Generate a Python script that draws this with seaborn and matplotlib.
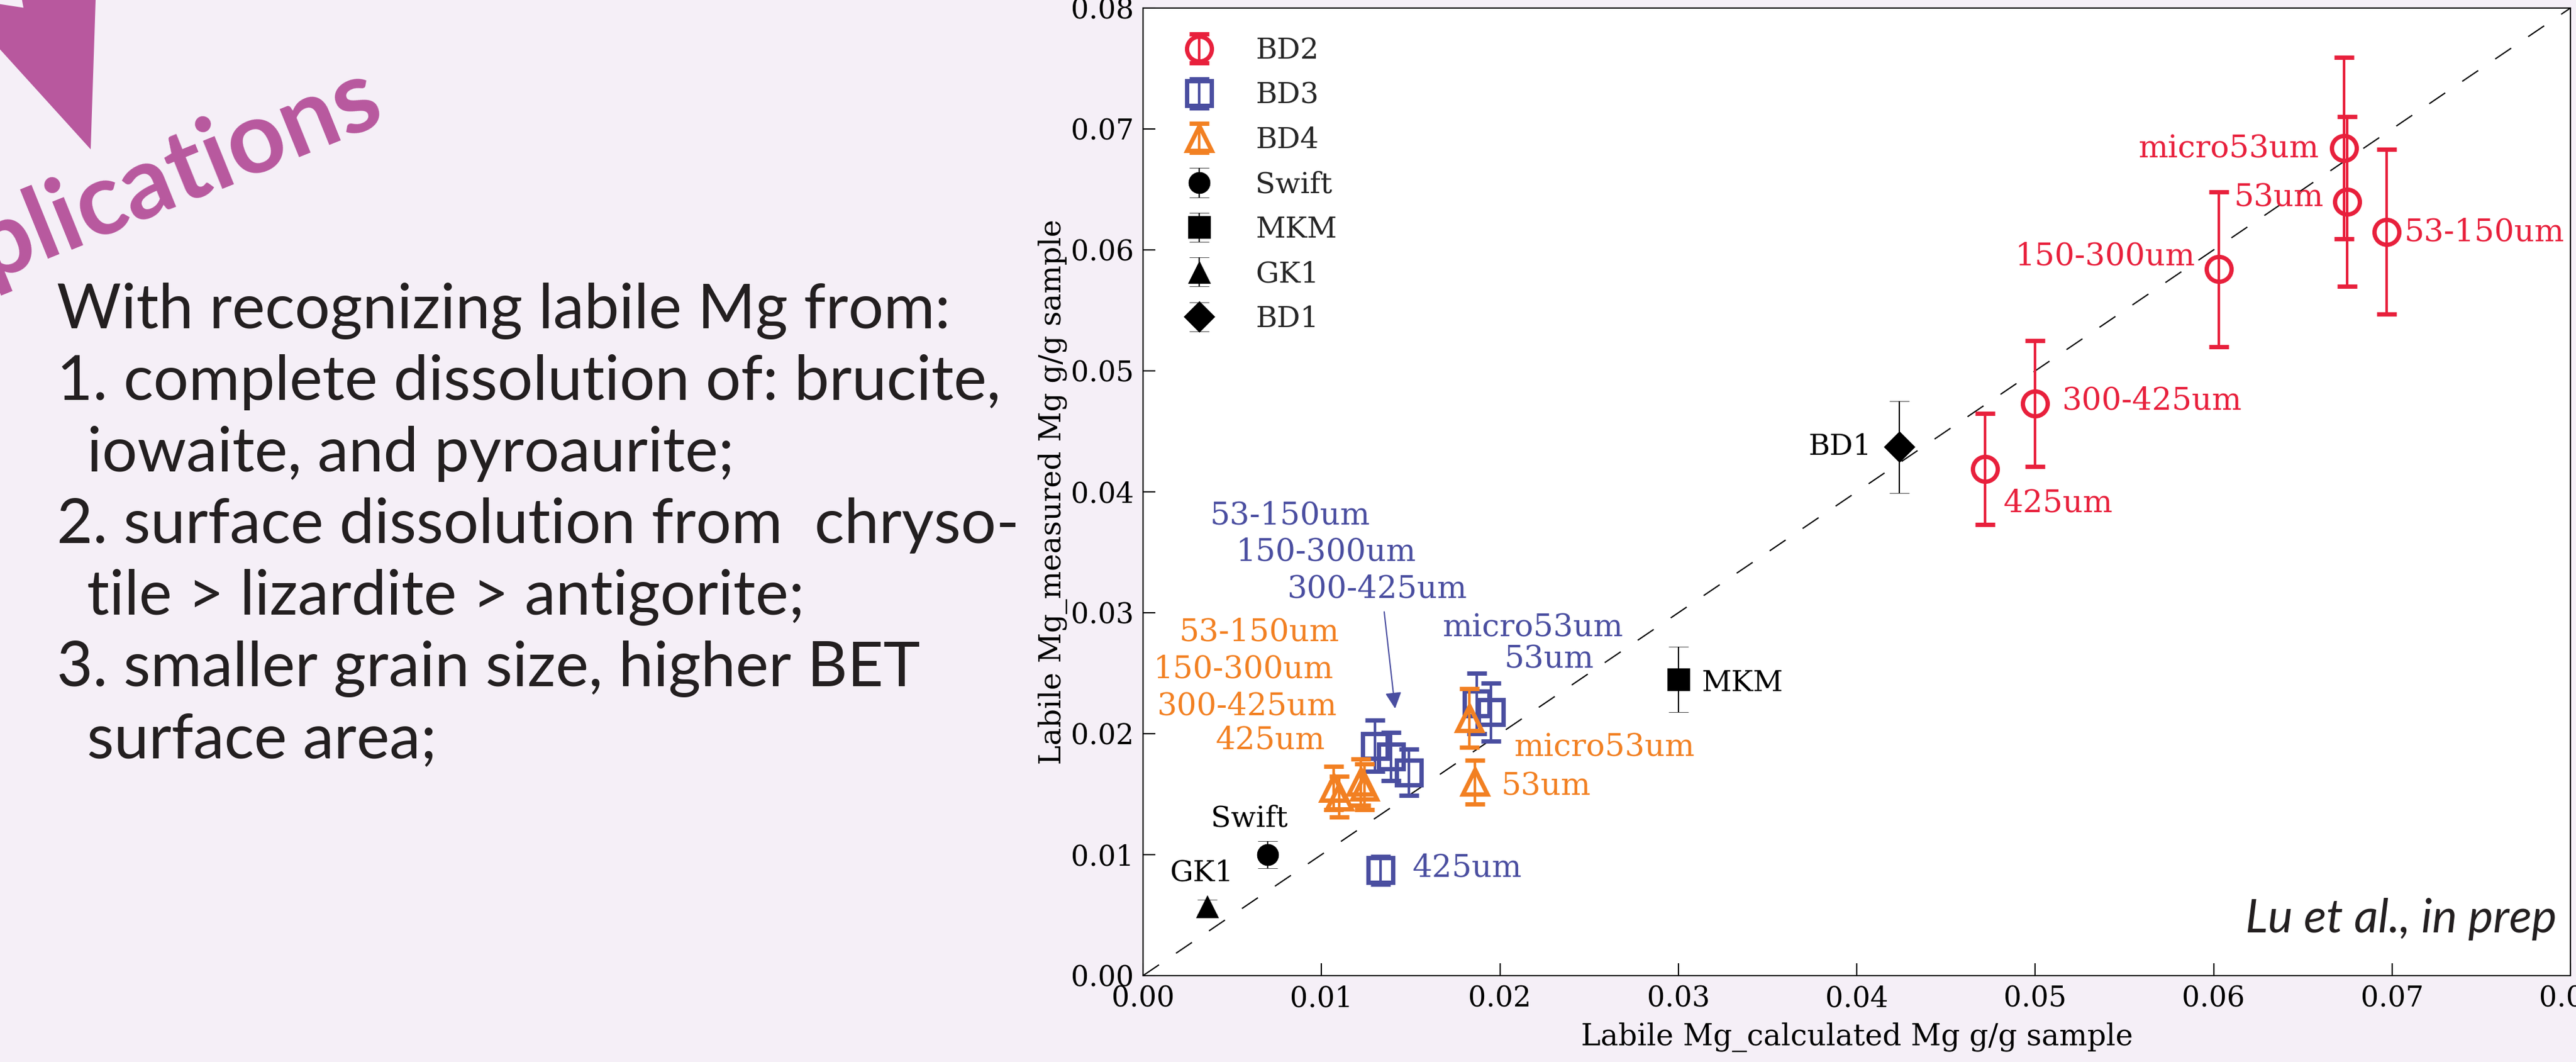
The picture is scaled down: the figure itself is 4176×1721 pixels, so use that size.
import numpy as np
import pandas as pd
import matplotlib
matplotlib.use("Agg")
import matplotlib.pyplot as plt
import seaborn as sns
from matplotlib.patches import Polygon
from matplotlib.legend_handler import HandlerErrorbar

# ---------------- data ----------------
sizes = ["micro53um", "53um", "53-150um", "150-300um", "300-425um", "425um"]

bd2_x = [0.0673, 0.0675, 0.0697, 0.0603, 0.0500, 0.0472]
bd2_y = [0.0684, 0.0640, 0.0615, 0.0584, 0.0473, 0.0419]
bd2_err = [0.0075, 0.0070, 0.0068, 0.0064, 0.0052, 0.0046]

bd3_x = [0.0187, 0.0195, 0.0130, 0.0139, 0.0149, 0.0133]
bd3_y = [0.0225, 0.0218, 0.0190, 0.0181, 0.0168, 0.0087]
bd3_err = [0.0025, 0.0024, 0.0021, 0.0020, 0.0019, 0.00115]

bd4_x = [0.0183, 0.0186, 0.0107, 0.0110, 0.0122, 0.0124]
bd4_y = [0.0213, 0.0160, 0.0155, 0.0148, 0.0160, 0.0156]
bd4_err = [0.0024, 0.0018, 0.0018, 0.0017, 0.0019, 0.0019]

ref_names = ["Swift", "MKM", "GK1", "BD1"]
ref_x = [0.0070, 0.0300, 0.0036, 0.0424]
ref_y = [0.0100, 0.0245, 0.0057, 0.0437]
ref_err = [0.0011, 0.0027, 0.0006, 0.0038]

one_to_one = [0.0, 0.08]
xticks = [0.00, 0.01, 0.02, 0.03, 0.04, 0.05, 0.06, 0.07, 0.08]
yticks = [0.00, 0.01, 0.02, 0.03, 0.04, 0.05, 0.06, 0.07, 0.08]

body_lines = [
    "With recognizing labile Mg from:",
    "1. complete dissolution of: brucite,",
    "iowaite, and pyroaurite;",
    "2. surface dissolution from  chryso-",
    "tile > lizardite > antigorite;",
    "3. smaller grain size, higher BET",
    "surface area;",
]
body_indent = [False, False, True, False, True, False, True]

# ---------------- style ----------------
W, H = 4176, 1721
BG = "#F5EFF7"
PURPLE = "#B8589E"
RED = "#E8203C"
BLUE = "#4A4EA0"
ORANGE = "#F28022"
DARK = "#231F20"

sns.set_theme(style="ticks")
plt.rcParams["font.family"] = ["DejaVu Serif"]
plt.rcParams["axes.edgecolor"] = "black"
plt.rcParams["axes.linewidth"] = 1.5

fig = plt.figure(figsize=(W / 100, H / 100), dpi=100, facecolor=BG)
renderer = fig.canvas.get_renderer()

def fx(px):
    return px / W

def fy(py):
    return 1 - py / H

# axes
ax = fig.add_axes([fx(1853), fy(1581), (4167 - 1853) / W, (1581 - 13) / H])
ax.set_facecolor("white")
for s in ax.spines.values():
    s.set_color("black")
    s.set_linewidth(1.5)

# 1:1 line
diag = pd.DataFrame({"x": one_to_one, "y": one_to_one})
sns.lineplot(data=diag, x="x", y="y", ax=ax, color="black", lw=1.5,
             linestyle=(0, (15, 16)), zorder=1)

open_kw = dict(ms=29, mfc="none", mew=5, elinewidth=3, capsize=11.5, capthick=4)
c_bd2 = ax.errorbar(bd2_x, bd2_y, yerr=bd2_err, fmt="o", mec=RED, ecolor=RED,
                    label="BD2", zorder=2, **open_kw)
c_bd3 = ax.errorbar(bd3_x, bd3_y, yerr=bd3_err, fmt="s", mec=BLUE, ecolor=BLUE,
                    label="BD3", zorder=2.1, **open_kw)
c_bd4 = ax.errorbar(bd4_x, bd4_y, yerr=bd4_err, fmt="^", mec=ORANGE, ecolor=ORANGE,
                    label="BD4", zorder=2.2, **open_kw)

ref_markers = ["o", "s", "^", "D"]
ref_ms = [25, 26, 26, 25]
ref_conts = []
for name, x, y, e, m, ms in zip(ref_names, ref_x, ref_y, ref_err, ref_markers, ref_ms):
    c = ax.errorbar([x], [y], yerr=[e], fmt=m, ms=ms, mfc="black", mec="black",
                    mew=0.5, ecolor="black", elinewidth=1.5, capsize=11.5,
                    capthick=1.5, label=name, zorder=2.3)
    ref_conts.append(c)

ax.set_xlim(0, 0.08)
ax.set_ylim(0, 0.08)
ax.set_xticks(xticks)
ax.set_yticks(yticks)
ax.set_xticklabels([f"{t:.2f}" for t in xticks])
ax.set_yticklabels([f"{t:.2f}" for t in yticks])
ax.tick_params(direction="in", length=14.4, width=1.5, labelsize=33, pad=11,
               top=False, right=False, colors="black")
ax.set_xlabel("Labile Mg_calculated Mg g/g sample", fontsize=34.5, labelpad=11,
              color="black")
ax.set_ylabel("Labile Mg_measured Mg g/g sample", fontsize=34.5, labelpad=3,
              color="black")

# legend
handles = [c_bd2, c_bd3, c_bd4] + ref_conts
labels = ["BD2", "BD3", "BD4"] + ref_names
leg = ax.legend(handles, labels, loc="upper left",
                bbox_to_anchor=((1944 - 47 - 1853) / 2314, (1581 - 60) / 1568),
                frameon=False, fontsize=34, borderaxespad=0, borderpad=0,
                handlelength=2.0, handletextpad=0.93, labelspacing=0.575,
                handler_map={type(c_bd2): HandlerErrorbar(xerr_size=0.5)})

# annotations (pixel -> data helpers for label positions)
def dx(px):
    return (px - 1853) / 28930

def dy(py):
    return (1581 - py) / 19600

ann = [
    # text, color, x_px, baseline_px, ha
    ("micro53um", RED, 3759, 255.4, "right"),
    ("53um", RED, 3622.5, 334.6, "left"),
    ("53-150um", RED, 3898.5, 390.3, "left"),
    ("150-300um", RED, 3558.8, 429.3, "right"),
    ("300-425um", RED, 3342.8, 663.0, "left"),
    ("425um", RED, 3247.5, 829.4, "left"),
    ("BD1", "black", 3034.3, 737.3, "right"),
    ("MKM", "black", 2759, 1119.7, "left"),
    ("Swift", "black", 2088, 1339.5, "right"),
    ("GK1", "black", 2000, 1428, "right"),
    ("53-150um", BLUE, 2221, 849, "right"),
    ("150-300um", BLUE, 2296, 908, "right"),
    ("300-425um", BLUE, 2378, 968, "right"),
    ("53-150um", ORANGE, 2171, 1038, "right"),
    ("150-300um", ORANGE, 2162, 1098.6, "right"),
    ("300-425um", ORANGE, 2167, 1158.7, "right"),
    ("425um", ORANGE, 2148, 1213, "right"),
    ("micro53um", BLUE, 2338, 1031.8, "left"),
    ("53um", BLUE, 2439, 1082.5, "left"),
    ("micro53um", ORANGE, 2454, 1225.6, "left"),
    ("53um", ORANGE, 2433.7, 1288.8, "left"),
    ("425um", BLUE, 2289.8, 1420.7, "left"),
]
for t, col, xp, yp, ha in ann:
    fs = 34 if col == "black" else 36.5
    ax.text(dx(xp), dy(yp), t, color=col, fontsize=fs, ha=ha, va="baseline",
            zorder=5)

ax.annotate("", xy=(dx(2261.7), dy(1148.3)), xytext=(dx(2244), dy(991.5)),
            arrowprops=dict(arrowstyle="-|>", color=BLUE, lw=1.5,
                            mutation_scale=40, shrinkA=0, shrinkB=0))

# "Lu et al., in prep"
t_lu = fig.text(fx(3640.5), fy(1510.7), "Lu et al., in prep", fontsize=60,
                family=["Lato", "DejaVu Sans"], style="italic", color=DARK,
                ha="left", va="baseline")
bb = t_lu.get_window_extent(renderer)
t_lu.set_fontsize(60 * 505 / bb.width)

# ---------------- left slide text ----------------
arrow_px = [(0, 6.7), (38, 12.5), (35.7, 0), (155, 0), (147, 242), (0, 80)]
fig.add_artist(Polygon([(fx(x), fy(y)) for x, y in arrow_px], closed=True,
                       transform=fig.transFigure, facecolor=PURPLE,
                       edgecolor="none"))

t_pl = fig.text(fx(-18), fy(454.4), "plications", fontsize=120,
                family=["Lato", "DejaVu Sans"], weight="bold", color=PURPLE,
                ha="left", va="baseline", rotation_mode="anchor")
bb = t_pl.get_window_extent(renderer)
t_pl.set_fontsize(120 * 696 / bb.width)
t_pl.set_rotation(22)

# body text
probe = fig.text(0, 0, body_lines[1], fontsize=75, family=["Lato", "DejaVu Sans"])
bb = probe.get_window_extent(renderer)
body_fs = 75 * 1529 / bb.width
probe.remove()

baselines = [532, 648, 764, 880, 996, 1112, 1228]
for line, ind, bl in zip(body_lines, body_indent, baselines):
    fig.text(fx(141 if ind else 92), fy(bl), line, fontsize=body_fs,
             family=["Lato", "DejaVu Sans"], color=DARK, ha="left",
             va="baseline")

fig.savefig("out.png", dpi=100, facecolor=BG)
